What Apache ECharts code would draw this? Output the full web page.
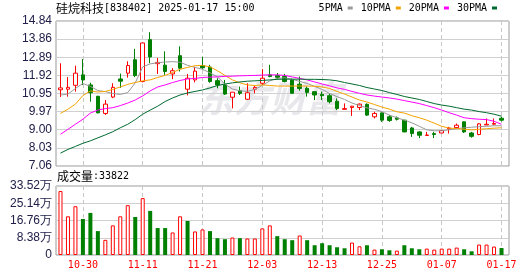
<!DOCTYPE html>
<html>
<head>
<meta charset="utf-8">
<script src="https://cdn.jsdelivr.net/npm/echarts@6/dist/echarts.min.js"></script>
<style>
html, body { margin: 0; padding: 0; background: #fff; }
#main { width: 530px; height: 276px; }
</style>
</head>
<body>
<div id="main"></div>
<script>
const stockName = '硅烷科技';
const stockCode = '838402';
const quoteTime = '2025-01-17 15:00';

const dates = [
    '10-25', '10-28', '10-29', '10-30', '10-31', '11-01', '11-04', '11-05', '11-06', '11-07',
    '11-08', '11-11', '11-12', '11-13', '11-14', '11-15', '11-18', '11-19', '11-20', '11-21',
    '11-22', '11-25', '11-26', '11-27', '11-28', '11-29', '12-02', '12-03', '12-04', '12-05',
    '12-06', '12-09', '12-10', '12-11', '12-12', '12-13', '12-16', '12-17', '12-18', '12-19',
    '12-20', '12-23', '12-24', '12-25', '12-26', '12-27', '12-30', '12-31', '01-02', '01-03',
    '01-06', '01-07', '01-08', '01-09', '01-10', '01-13', '01-14', '01-15', '01-16', '01-17'
];

const openPrices = [
    11.15, 11.18, 11.39, 11.95, 11.41, 10.80, 9.88, 10.76, 11.73, 12.04,
    12.76, 11.59, 13.84, 12.55, 12.47, 12.00, 12.98, 11.18, 11.68, 12.45,
    12.37, 11.64, 11.41, 10.75, 11.10, 10.64, 11.18, 11.50, 11.95, 11.91,
    11.86, 11.68, 11.45, 11.23, 11.05, 10.90, 10.83, 10.54, 10.10, 10.20,
    10.20, 10.37, 9.70, 9.91, 9.70, 9.64, 9.52, 9.10, 8.89, 8.70,
    8.80, 8.83, 9.05, 9.12, 9.43, 8.83, 8.75, 9.26, 9.30, 9.62
];
const closePrices = [
    11.25, 11.28, 12.04, 11.68, 10.99, 9.91, 10.38, 11.28, 11.61, 12.45,
    11.91, 13.66, 12.91, 12.62, 12.13, 12.17, 12.31, 11.77, 12.15, 12.33,
    11.59, 11.41, 10.92, 11.02, 10.96, 10.99, 11.28, 11.77, 11.86, 11.82,
    11.59, 10.96, 11.22, 11.01, 10.87, 10.83, 10.51, 10.15, 10.14, 10.27,
    10.38, 9.79, 9.88, 9.52, 9.50, 9.57, 8.89, 8.80, 8.71, 8.72,
    8.75, 8.96, 9.10, 9.25, 8.89, 8.65, 9.32, 9.30, 9.34, 9.52
];
const lowPrices = [
    10.76, 10.78, 11.05, 11.40, 10.51, 9.89, 9.80, 10.70, 11.25, 11.80,
    11.83, 11.55, 12.58, 12.00, 11.95, 11.72, 12.13, 10.85, 11.55, 12.25,
    11.53, 11.23, 10.87, 10.15, 10.87, 10.60, 10.96, 11.41, 11.82, 11.70,
    11.55, 10.95, 11.10, 10.78, 10.60, 10.60, 10.42, 10.06, 10.10, 9.75,
    10.06, 9.75, 9.61, 9.43, 9.43, 9.50, 8.87, 8.62, 8.56, 8.70,
    8.56, 8.83, 8.80, 9.07, 8.83, 8.58, 8.71, 9.26, 9.30, 9.45
];
const highPrices = [
    12.57, 11.83, 12.44, 12.80, 11.53, 10.83, 10.60, 11.50, 12.02, 12.68,
    13.34, 13.68, 14.24, 12.86, 13.21, 12.31, 13.48, 12.00, 12.38, 12.91,
    12.49, 11.77, 11.68, 11.02, 11.32, 11.50, 11.36, 12.26, 12.49, 12.05,
    12.00, 11.75, 11.86, 11.32, 11.05, 11.05, 10.96, 10.69, 10.42, 10.29,
    10.42, 10.42, 9.97, 9.93, 9.79, 9.72, 9.52, 9.16, 8.92, 8.89,
    8.89, 8.98, 9.16, 9.34, 9.45, 8.89, 9.36, 9.61, 9.61, 9.70
];

const ma5 = [
    10.87, 10.92, 11.22, 11.49, 11.33, 11.11, 11.05, 10.95, 10.90, 11.00,
    11.52, 12.38, 12.54, 12.60, 12.64, 12.66, 12.63, 12.46, 12.35, 12.25,
    12.06, 11.84, 11.46, 11.19, 11.09, 11.06, 11.17, 11.38, 11.63, 11.76,
    11.79, 11.71, 11.60, 11.49, 11.33, 11.17, 10.95, 10.78, 10.63, 10.44,
    10.30, 10.18, 10.10, 9.98, 9.79, 9.65, 9.52, 9.38, 9.19, 9.00,
    8.95, 8.95, 9.00, 9.06, 9.11, 9.14, 9.17, 9.19, 9.22, 9.22
];
const ma10 = [
    9.88, 10.11, 10.38, 10.84, 11.09, 11.03, 11.06, 11.17, 11.30, 11.44,
    11.54, 11.63, 11.68, 11.81, 11.92, 12.08, 12.25, 12.35, 12.44, 12.46,
    12.38, 12.17, 11.92, 11.68, 11.52, 11.41, 11.38, 11.41, 11.38, 11.35,
    11.35, 11.35, 11.35, 11.35, 11.34, 11.30, 11.22, 11.06, 10.92, 10.76,
    10.60, 10.49, 10.36, 10.22, 10.11, 9.97, 9.90, 9.76, 9.65, 9.52,
    9.36, 9.19, 9.09, 9.07, 9.03, 9.00, 9.03, 9.06, 9.09, 9.11
];
const ma20 = [
    8.76, 9.03, 9.30, 9.57, 9.90, 10.06, 10.14, 10.19, 10.30, 10.44,
    10.60, 10.82, 11.09, 11.30, 11.41, 11.54, 11.65, 11.73, 11.76, 11.81,
    11.83, 11.84, 11.87, 11.88, 11.90, 11.91, 11.92, 11.94, 11.95, 11.95,
    11.92, 11.84, 11.76, 11.68, 11.57, 11.46, 11.36, 11.25, 11.17, 11.06,
    10.96, 10.87, 10.81, 10.76, 10.71, 10.65, 10.57, 10.49, 10.41, 10.30,
    10.19, 10.06, 9.92, 9.79, 9.65, 9.60, 9.57, 9.55, 9.46, 9.30
];
const ma30 = [
    7.75, 7.95, 8.11, 8.28, 8.41, 8.57, 8.73, 8.90, 9.11, 9.30,
    9.55, 9.84, 10.06, 10.27, 10.52, 10.71, 10.87, 10.98, 11.06, 11.14,
    11.25, 11.38, 11.46, 11.52, 11.57, 11.61, 11.63, 11.65, 11.68, 11.71,
    11.72, 11.72, 11.72, 11.71, 11.71, 11.70, 11.68, 11.63, 11.54, 11.46,
    11.38, 11.27, 11.19, 11.11, 11.00, 10.90, 10.79, 10.71, 10.63, 10.52,
    10.41, 10.33, 10.27, 10.19, 10.11, 10.06, 9.98, 9.92, 9.84, 9.73
];

const volumes = [
    310700, 188000, 237100, 174900, 204400, 116100, 73600, 143900, 188000, 242000,
    184800, 276300, 214200, 130800, 130800, 109500, 188000, 165100, 114400, 124300,
    116100, 81700, 76800, 85000, 81700, 80100, 80100, 129200, 143900, 91500,
    76800, 71900, 94800, 71900, 47400, 57200, 47400, 37600, 32700, 60500,
    42500, 47400, 26200, 27800, 22900, 21300, 47400, 32700, 27800, 31100,
    26200, 31100, 31100, 36000, 27800, 18000, 50700, 50700, 40900, 33822
];
// 1 = 较前收上涨, 0 = 下跌
const volumeUp = [
    1, 1, 1, 0, 0, 0, 1, 1, 1, 1,
    0, 1, 0, 0, 0, 1, 1, 0, 1, 1,
    0, 0, 0, 1, 0, 1, 1, 1, 1, 0,
    0, 0, 1, 0, 0, 0, 0, 0, 0, 1,
    1, 0, 1, 0, 0, 1, 0, 0, 0, 1,
    1, 1, 1, 1, 0, 0, 1, 1, 1, 0
];

const priceTicks = ['7.06', '8.03', '9.00', '9.97', '10.95', '11.92', '12.89', '13.86', '14.84'];
const volumeTicks = ['0', '8.38万', '16.76万', '25.14万', '33.52万'];
const dateTickIndex = [3, 11, 19, 27, 35, 43, 51, 59];
const maNames = ['5PMA', '10PMA', '20PMA', '30PMA'];

const RED = '#ff0000';
const GREEN = '#008000';
const MONO = 'DejaVu Sans Mono';
const CJK = 'Noto Sans CJK SC';

const priceMin = +priceTicks[0];
const priceMax = +priceTicks[priceTicks.length - 1];
const priceStep = (priceMax - priceMin) / (priceTicks.length - 1);
const volStep = 83800;
const volMax = volStep * (volumeTicks.length - 1);

const chart = echarts.init(document.getElementById('main'), null, { renderer: 'canvas' });

const candleData = dates.map((d, i) => [i, openPrices[i], closePrices[i], lowPrices[i], highPrices[i]]);
const toLine = arr => arr.map((v, i) => [i, v]);
const volumeData = volumes.map((v, i) => ({
    value: [i, v],
    itemStyle: volumeUp[i]
        ? { color: '#ffffff', borderColor: RED, borderWidth: 1 }
        : { color: GREEN, borderColor: GREEN, borderWidth: 0 }
}));

function makeXAxis(gridIndex, showLabel) {
    return {
        type: 'value',
        gridIndex: gridIndex,
        min: -0.6,
        max: 60,
        axisLine: { show: false },
        axisTick: { show: false, customValues: dateTickIndex },
        axisLabel: {
            show: showLabel,
            customValues: dateTickIndex,
            formatter: v => dates[Math.round(v)],
            color: RED,
            fontFamily: MONO,
            fontSize: 10,
            margin: 5
        },
        splitLine: {
            show: true,
            lineStyle: { color: '#c8c8c8', width: 1, type: [4, 3] }
        }
    };
}

const axisLabelStyle = {
    color: '#20204a',
    fontFamily: 'Liberation Sans',
    fontSize: 12,
    margin: 4
};

chart.setOption({
    animation: false,
    backgroundColor: '#ffffff',
    title: [
        {
            text: '{cn|' + stockName + '}{en|[' + stockCode + '] ' + quoteTime + '}',
            left: 56,
            top: 2,
            padding: 0,
            textStyle: {
                rich: {
                    cn: { fontFamily: CJK, fontSize: 12, color: '#000', fontWeight: 'normal' },
                    en: { fontFamily: MONO, fontSize: 10, color: '#000', fontWeight: 'normal' }
                }
            }
        },
        {
            text: '{cn|成交量}{en|:' + volumes[volumes.length - 1] + '}',
            left: 57,
            top: 170,
            padding: 0,
            textStyle: {
                rich: {
                    cn: { fontFamily: CJK, fontSize: 12, color: '#000', fontWeight: 'normal' },
                    en: { fontFamily: MONO, fontSize: 10, color: '#000', fontWeight: 'normal' }
                }
            }
        }
    ],
    legend: {
        data: maNames,
        right: 33,
        top: 3,
        padding: 0,
        align: 'right',
        icon: 'rect',
        itemWidth: 5,
        itemHeight: 3,
        itemGap: 8,
        selectedMode: false,
        textStyle: { fontFamily: MONO, fontSize: 10, color: '#000' }
    },
    graphic: [
        {
            type: 'text',
            left: 198,
            top: 80,
            z: 0,
            silent: true,
            style: {
                text: '东方财富',
                font: 'italic bold 36px "Noto Sans CJK SC"',
                fill: '#e8e8ec'
            }
        }
    ],
    grid: [
        { left: 56, top: 21, width: 453, height: 145, show: true, borderColor: '#999', borderWidth: 1, backgroundColor: 'transparent' },
        { left: 56, top: 186, width: 453, height: 69, show: true, borderColor: '#999', borderWidth: 1, backgroundColor: 'transparent' }
    ],
    xAxis: [makeXAxis(0, false), makeXAxis(1, true)],
    yAxis: [
        {
            type: 'value',
            gridIndex: 0,
            min: priceMin,
            max: priceMax,
            interval: priceStep,
            axisLine: { show: false },
            axisTick: { show: false },
            axisLabel: Object.assign({}, axisLabelStyle, {
                formatter: v => priceTicks[Math.round((v - priceMin) / priceStep)]
            }),
            splitLine: { lineStyle: { color: '#d0d0d0', width: 1 } }
        },
        {
            type: 'value',
            gridIndex: 1,
            min: 0,
            max: volMax,
            interval: volStep,
            axisLine: { show: false },
            axisTick: { show: false },
            axisLabel: Object.assign({}, axisLabelStyle, {
                formatter: v => volumeTicks[Math.round(v / volStep)]
            }),
            splitLine: { lineStyle: { color: '#d0d0d0', width: 1 } }
        }
    ],
    series: [
        {
            name: 'K',
            type: 'candlestick',
            xAxisIndex: 0,
            yAxisIndex: 0,
            data: candleData,
            barWidth: 4,
            silent: true,
            itemStyle: {
                color: '#ffffff',
                color0: GREEN,
                borderColor: RED,
                borderColor0: GREEN,
                borderColorDoji: RED,
                borderWidth: 1
            }
        },
        {
            name: maNames[0], type: 'line', data: toLine(ma5), symbol: 'none', silent: true,
            color: '#999999', lineStyle: { width: 1, color: '#999999' }
        },
        {
            name: maNames[1], type: 'line', data: toLine(ma10), symbol: 'none', silent: true,
            color: '#f5a300', lineStyle: { width: 1, color: '#f5a300' }
        },
        {
            name: maNames[2], type: 'line', data: toLine(ma20), symbol: 'none', silent: true,
            color: '#ff00ff', lineStyle: { width: 1, color: '#ff00ff' }
        },
        {
            name: maNames[3], type: 'line', data: toLine(ma30), symbol: 'none', silent: true,
            color: '#006b2e', lineStyle: { width: 1, color: '#006b2e' }
        },
        {
            name: '成交量',
            type: 'bar',
            xAxisIndex: 1,
            yAxisIndex: 1,
            data: volumeData,
            barWidth: 4,
            silent: true
        }
    ]
});

window.addEventListener('resize', () => chart.resize());
</script>
</body>
</html>
